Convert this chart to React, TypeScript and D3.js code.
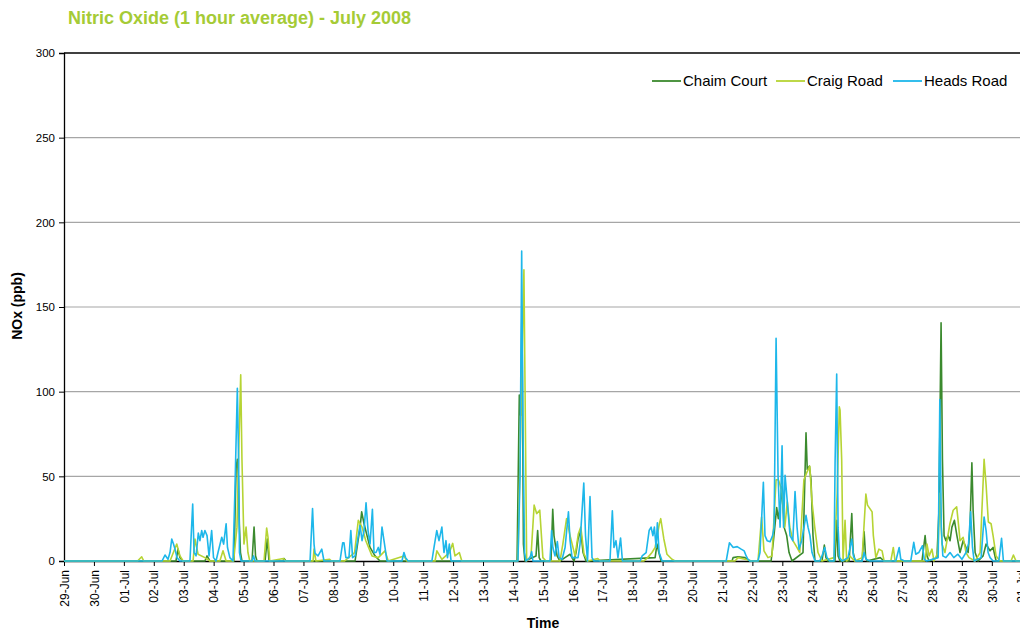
import React, { useEffect, useRef } from "react";
import * as d3 from "d3";

// hours since 29-Jun-2008 00:00, NOx value (ppb)
const chaimCourt: [number, number][] = [[0,0],[89.8,0],[91.4,7],[93,2],[95.4,0],[113,0],[114.7,3],[117,0],[136.3,0],[138,55],[139,60],[139.8,50],[140.6,22],[141.5,5],[142.7,0],[150.8,0],[152.4,20],[153.6,3],[154.8,0],[161.2,0],[163,13],[164.4,0],[175.6,0],[176.4,1.5],[178,0],[233.4,0],[237.4,20],[238.7,29],[240.6,22],[243,15],[245.4,8],[249.4,3],[253.4,0],[363.3,0],[365.1,98],[366.2,86],[367.2,150],[368.4,10],[369.6,0],[378.5,3],[379.8,18],[381,2],[382.5,0],[390.5,0],[391.9,30.5],[392.9,15],[395.4,3],[397.7,0],[401.7,2],[405.8,4],[409,0],[410.6,5],[412.2,13],[414.4,18],[416.2,5],[418.6,0],[474,2],[475.5,10],[477,5],[478.8,0],[535.7,0],[536.5,2],[540.5,2.5],[546,2],[550,0],[567,0],[568.6,10],[571.5,31.5],[572.8,25],[574.7,35],[575.8,44],[577.4,20],[579.5,15],[581.4,5],[583.8,0],[592.6,5],[595,75.7],[596,54],[597.7,56],[599,48],[600.6,15],[602.2,0],[607.8,0],[609.7,9.4],[611,2],[612.6,0],[618.2,0],[619.6,24],[620.7,3],[622.3,0],[629.6,0],[631.7,28],[632.8,5],[634.4,0],[640,0],[641.6,17.3],[642.8,2],[644,0],[654.5,2],[657.6,0],[688,0],[690.5,15],[692,3],[693.7,0],[700,2],[701.6,30],[703.3,140.7],[704.4,60],[705.7,15],[707.2,12],[708.9,15],[710.5,12],[712,20],[714,24],[716,15],[718.5,5],[721,12],[723.3,8],[725,5],[726.5,20],[728,58],[729,30],[730.6,5],[733,0],[737,3],[739.4,10],[742.6,6],[745,8],[747.4,0],[790,0]];

const craigRoad: [number, number][] = [[0,0],[59,0],[62.3,2.5],[64,0],[85,0],[90.4,10],[93,3],[95.5,0],[103.5,0],[105,13],[107.5,4],[113,2],[117,0],[125,0],[127.5,6],[130,0],[136,0],[138.7,20],[140.3,70],[141.7,110],[142.7,60],[144.3,10],[146,20],[147.5,5],[149,0],[160.4,0],[162.5,19.5],[163.6,14],[165,0],[176,1.5],[177.5,0],[199.7,0],[200.5,7],[202,0],[213,1],[214.5,0],[225,0],[233,5],[236,24],[239,20],[242,12],[247,3],[252,2],[257.4,6],[260,0],[272.6,3],[275,0],[297.5,0],[299,6],[303,1],[309,5],[311.7,10.4],[313.5,3],[317,5],[319,0],[364,0],[368.8,172],[371,0],[374.5,3],[377,33],[379,28],[381.5,30],[384,2],[386.5,0],[397.7,0],[400,10],[403,25],[405.8,15],[409.8,3],[412.4,16],[414.4,20],[417,4],[420,0],[428,1.5],[430,0],[465,0],[468,2],[471.5,5],[474,8],[477.4,22],[478.5,25],[481,13],[483.5,4],[487.5,1],[490,0],[538,0],[540.5,2],[546,1],[551.7,0],[556.5,0],[559.4,26],[561.3,6],[564.5,2],[567.7,3],[571,48],[572.8,48],[574.2,45],[575.8,40],[578,20],[580,35],[582,20],[584.5,12],[587.7,8],[590,5],[593.3,48],[595.5,52],[598,56],[599.8,35],[602,20],[604.6,5],[607.8,0],[617.5,2],[620,40],[621.7,91],[622.3,89],[623.6,60],[624.7,0],[626.3,24],[627.6,0],[630,3],[634,0],[640,2],[643,39.5],[644.3,33],[648,29],[649,15],[651,2],[653.5,7],[656,6],[657.6,0],[663,0],[665,8],[666.4,0],[690.5,0],[692,10],[693.7,3],[696,7],[697.6,0],[700.8,5],[702.3,40],[704,10],[706.4,5],[710.4,22],[713,30],[715.8,32],[716.8,25],[718.5,12],[721,14],[723.3,5],[725.7,2],[730.6,0],[734.6,5],[737.8,60],[739.4,45],[741.2,23],[743.4,22],[745,15],[747.4,3],[750.6,0],[759.4,0],[761.3,3.5],[763.4,0],[790,0]];

const headsRoad: [number, number][] = [[0,0],[78.6,0],[81,3.5],[83.4,1],[85,5],[86.4,13],[87.8,10],[89,7],[90.6,2],[93,0],[101,0],[103.2,33.6],[104.3,5],[105.9,3],[107.7,16.5],[109,12],[110.4,18],[111.5,14],[113,18],[114.7,15],[116.3,3],[118.4,18],[119.9,2],[121.9,0],[123.5,5],[126.5,14],[128,10],[130,22],[131.1,8],[133,2],[135.5,0],[137,40],[139,102],[140,60],[140.7,5],[142,0],[150.8,0],[152,3],[153.2,0],[197.3,0],[199.3,31],[200.5,10],[201.3,4.5],[203.7,3],[206.7,7],[208.5,0],[221.3,0],[223.5,10.8],[224.5,10.8],[226,2],[228.5,2],[230,18],[231.4,2],[233.4,3],[235.8,14],[237.4,21],[239,12],[240.6,18],[242.2,34.4],[243.8,18],[245.4,10],[247.3,30.5],[248.6,5],[250.2,5],[252,8],[253.4,4],[255,20],[256.6,12],[259,0],[271,0],[272.6,5],[273.9,2],[275.9,0],[295,0],[296.7,8],[298.9,18],[300.7,12],[303,20],[304.7,5],[306.3,12],[307.5,2],[309,10],[310.4,0],[364,0],[365.7,50],[367,183],[368,80],[369.3,5],[370.5,0],[373.7,2],[375,5.5],[376,0],[389.7,0],[391,18],[392,8],[393.7,3],[395.6,11.5],[397,2],[399.4,1],[401.8,8],[404.5,29],[405.8,12],[407.4,2],[412.2,2],[413.8,10],[414.6,20],[416.8,46],[418.2,15],[419.8,0],[421.8,38],[423.4,2],[425,0],[437.8,0],[439.7,29.7],[441,8],[442.6,12],[444.2,2],[446.3,13.6],[447.8,0],[462,0],[463.6,3],[466.8,5],[469.2,18],[470.8,20],[472.2,15],[473.4,20],[474.8,8],[475.8,22.6],[477.2,5],[479.6,0],[531,0],[533.6,10.8],[536.6,8],[539.8,8.5],[543,7],[545.4,6],[547,3],[548.5,1],[550,0],[556.5,0],[558.1,5],[560.8,46.5],[562.1,15],[563.8,12],[566.2,11.4],[568.2,15],[569.4,20],[571,131.5],[572.6,50],[574.2,20],[575.8,68],[577,20],[578.2,50.6],[580,35],[582.2,15],[584.4,12],[586.2,41],[587.8,20],[589.4,7],[591.5,12],[593.4,20],[595,27],[596.6,20],[598.2,15],[599.8,5],[602.2,0],[606,0],[607.8,3],[610,8],[611.8,2],[614,0],[617.5,0],[618.3,58],[619.6,110.4],[620.7,20],[621.9,2],[624,0],[628.7,2],[631.7,13],[633,3],[635,0],[640,0],[641.6,5],[643.2,1],[646.4,0],[667,0],[669.7,8],[671,1],[674,0],[679,0],[681.4,11],[683,4],[685.4,5],[688.4,9],[689.8,1],[691.8,0],[701,2],[702.3,95.4],[703.5,20],[704.7,3],[707.2,2],[710.5,5],[713.5,2],[716.8,4],[720,1],[723.3,5],[725.3,10],[727,29],[728.5,8],[729.8,0],[735.4,2],[737.8,26],[739.4,18],[741,5],[742.6,2],[745,0],[749.6,0],[751.8,13.4],[753.3,0],[790,0]];

const seriesNames = ["Chaim Court", "Craig Road", "Heads Road"];
const yTicks = [0, 50, 100, 150, 200, 250, 300];
const startDay = new Date(Date.UTC(2008, 5, 29));
const endDay = new Date(Date.UTC(2008, 7, 1));

const colors = ["#3b8a2e", "#b6d434", "#1db7ea"];
const font = "Arial, 'Liberation Sans', Helvetica, sans-serif";

export default function App() {
    const ref = useRef<SVGSVGElement>(null);

    useEffect(() => {
        const svg = d3.select(ref.current);
        svg.selectAll("*").remove();

        const left = 64, top = 53, bottom = 561;
        const x = d3.scaleUtc().domain([startDay, endDay]).range([left, left + 33 * 29.93]);
        const y = d3.scaleLinear().domain([0, 300]).range([bottom, top]);
        const toDate = (h: number) => new Date(startDay.getTime() + h * 3600e3);

        // Title
        svg.append("text")
            .attr("x", 68).attr("y", 24)
            .style("font-family", font).style("font-size", "18px").style("font-weight", "bold")
            .style("fill", "#a5cb36")
            .text("Nitric Oxide (1 hour average) - July 2008");

        // Gridlines
        svg.selectAll(".grid").data(yTicks.filter(t => t > 0 && t < 300)).join("line")
            .attr("class", "grid")
            .attr("x1", left).attr("x2", 1020)
            .attr("y1", d => y(d)).attr("y2", d => y(d))
            .style("stroke", "#a6a6a6").style("stroke-width", 1.2);

        // top border at 300
        svg.append("line")
            .attr("x1", left).attr("x2", 1020).attr("y1", y(300)).attr("y2", y(300))
            .style("stroke", "#000").style("stroke-width", 1.3);

        // Y axis
        const yAxis = svg.append("g")
            .attr("transform", `translate(${left},0)`)
            .call(d3.axisLeft(y).tickValues(yTicks).tickSize(5).tickPadding(4));
        yAxis.select(".domain").style("stroke", "#000").style("stroke-width", 1.3);
        yAxis.selectAll("text").style("font-family", font).style("font-size", "11.5px").style("fill", "#000");

        // X axis
        const days = d3.utcDay.range(startDay, endDay);
        const xAxis = svg.append("g")
            .attr("transform", `translate(0,${bottom})`)
            .call(d3.axisBottom(x).tickValues(days).tickFormat(d3.utcFormat("%d-%b") as any).tickSize(5).tickSizeOuter(0));
        xAxis.select(".domain").style("stroke", "#000").style("stroke-width", 1.3);
        xAxis.selectAll("text")
            .style("font-family", font).style("font-size", "12px").style("fill", "#000")
            .attr("text-anchor", "end")
            .attr("transform", "rotate(-90)")
            .attr("x", -9).attr("y", 0).attr("dy", "0.35em");

        // Lines
        const line = d3.line<[number, number]>()
            .x(d => x(toDate(d[0])))
            .y(d => y(d[1]));
        [chaimCourt, craigRoad, headsRoad].forEach((data, i) => {
            svg.append("path")
                .datum(data)
                .attr("d", line)
                .style("fill", "none")
                .style("stroke", colors[i])
                .style("stroke-width", 1.6)
                .style("stroke-linejoin", "round");
        });

        // Legend
        const legendX = [652, 776, 893];
        seriesNames.forEach((name, i) => {
            svg.append("line")
                .attr("x1", legendX[i]).attr("x2", legendX[i] + 29)
                .attr("y1", 81).attr("y2", 81)
                .style("stroke", colors[i]).style("stroke-width", 1.8);
            svg.append("text")
                .attr("x", legendX[i] + 31).attr("y", 81).attr("dy", "0.35em")
                .style("font-family", font).style("font-size", "15px").style("fill", "#000")
                .text(name);
        });

        // Axis titles
        svg.append("text")
            .attr("text-anchor", "middle")
            .attr("transform", "rotate(-90)")
            .attr("x", -306).attr("y", 22)
            .style("font-family", font).style("font-size", "14px").style("font-weight", "bold")
            .text("NOx (ppb)");

        svg.append("text")
            .attr("text-anchor", "middle")
            .attr("x", 543).attr("y", 628)
            .style("font-family", font).style("font-size", "14px").style("font-weight", "bold")
            .text("Time");
    }, []);

    return (
        <svg ref={ref} width={1020} height={633}
            style={{ position: "absolute", left: 0, top: 0, background: "#fff" }} />
    );
}
